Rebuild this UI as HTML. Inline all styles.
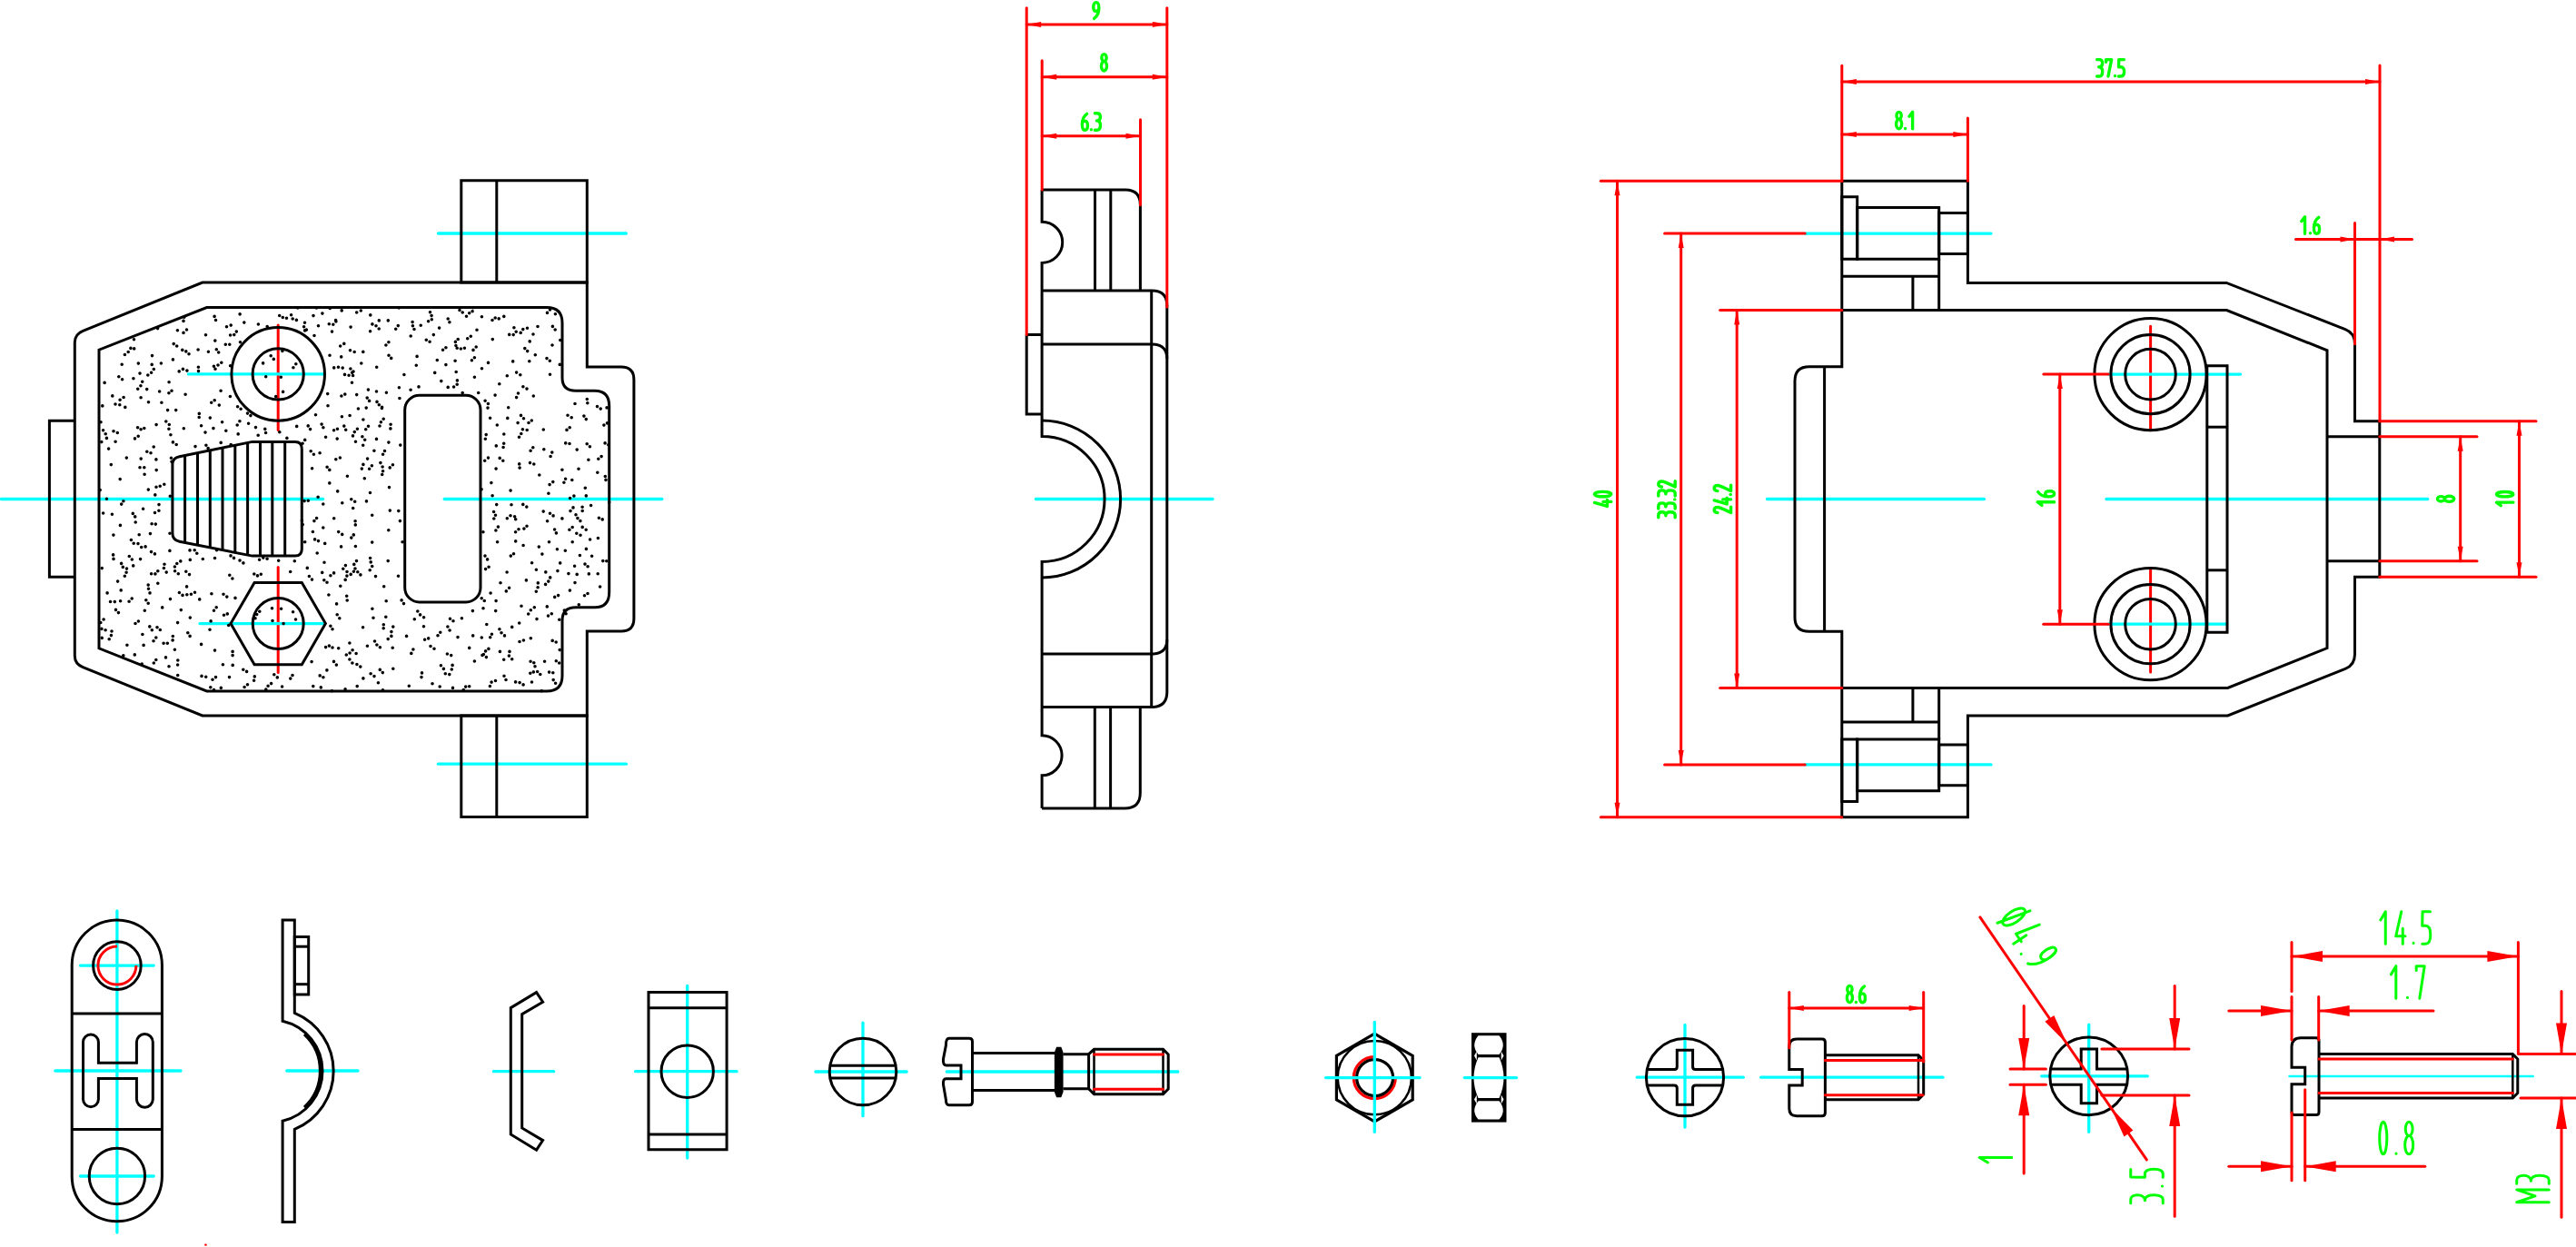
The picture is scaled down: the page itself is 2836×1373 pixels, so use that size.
<!DOCTYPE html><html><head><meta charset="utf-8"><title>CAD drawing</title><style>html,body{margin:0;padding:0;background:#fff;width:2836px;height:1373px;overflow:hidden;font-family:"Liberation Sans",sans-serif;}</style></head><body><svg width="2836" height="1373" viewBox="0 0 2836 1373" style="display:block"><rect width="100%" height="100%" fill="#fff"/><line x1="306.2" y1="358" x2="306.2" y2="473.5" stroke="#ff0000" stroke-width="3.0" stroke-linecap="round"/>
<line x1="306.2" y1="624.4" x2="306.2" y2="740.5" stroke="#ff0000" stroke-width="3.0" stroke-linecap="round"/>
<line x1="2367.6" y1="359.2" x2="2367.6" y2="473.7" stroke="#ff0000" stroke-width="3.0" stroke-linecap="round"/>
<line x1="2367.6" y1="625.6" x2="2367.6" y2="740.1" stroke="#ff0000" stroke-width="3.0" stroke-linecap="round"/>
<path d="M1513.3,1163.6 A23,23 0 1,0 1536.3,1186.6" stroke="#ff0000" stroke-width="3.2" fill="none" />
<line x1="1.4" y1="549.5" x2="355.6" y2="549.5" stroke="#00ffff" stroke-width="3.3" stroke-linecap="round"/>
<line x1="489.2" y1="549.5" x2="728.8" y2="549.5" stroke="#00ffff" stroke-width="3.3" stroke-linecap="round"/>
<line x1="482.4" y1="257" x2="689.4" y2="257" stroke="#00ffff" stroke-width="3.3" stroke-linecap="round"/>
<line x1="482.4" y1="841.2" x2="689.4" y2="841.2" stroke="#00ffff" stroke-width="3.3" stroke-linecap="round"/>
<line x1="207.4" y1="411.9" x2="356" y2="411.9" stroke="#00ffff" stroke-width="3.3" stroke-linecap="round"/>
<line x1="220" y1="686.6" x2="357.6" y2="686.6" stroke="#00ffff" stroke-width="3.3" stroke-linecap="round"/>
<line x1="1140.4" y1="549.5" x2="1335" y2="549.5" stroke="#00ffff" stroke-width="3.3" stroke-linecap="round"/>
<line x1="1945.5" y1="549.5" x2="2184.4" y2="549.5" stroke="#00ffff" stroke-width="3.3" stroke-linecap="round"/>
<line x1="2319" y1="549.5" x2="2672.7" y2="549.5" stroke="#00ffff" stroke-width="3.3" stroke-linecap="round"/>
<line x1="1987.2" y1="257.1" x2="2192" y2="257.1" stroke="#00ffff" stroke-width="3.3" stroke-linecap="round"/>
<line x1="1987.2" y1="841.9" x2="2192" y2="841.9" stroke="#00ffff" stroke-width="3.3" stroke-linecap="round"/>
<line x1="2321.2" y1="412.1" x2="2466.5" y2="412.1" stroke="#00ffff" stroke-width="3.3" stroke-linecap="round"/>
<line x1="2321.2" y1="687.2" x2="2451" y2="687.2" stroke="#00ffff" stroke-width="3.3" stroke-linecap="round"/>
<line x1="128.9" y1="1002.9" x2="128.9" y2="1357" stroke="#00ffff" stroke-width="3.3" stroke-linecap="round"/>
<line x1="60.8" y1="1179" x2="199" y2="1179" stroke="#00ffff" stroke-width="3.3" stroke-linecap="round"/>
<line x1="88.4" y1="1063.1" x2="169.2" y2="1063.1" stroke="#00ffff" stroke-width="3.3" stroke-linecap="round"/>
<line x1="88.4" y1="1295" x2="169.2" y2="1295" stroke="#00ffff" stroke-width="3.3" stroke-linecap="round"/>
<line x1="315.7" y1="1179" x2="394" y2="1179" stroke="#00ffff" stroke-width="3.3" stroke-linecap="round"/>
<line x1="543.5" y1="1179.7" x2="609.6" y2="1179.7" stroke="#00ffff" stroke-width="3.3" stroke-linecap="round"/>
<line x1="756.7" y1="1085.5" x2="756.7" y2="1275" stroke="#00ffff" stroke-width="3.3" stroke-linecap="round"/>
<line x1="699.6" y1="1179.7" x2="811" y2="1179.7" stroke="#00ffff" stroke-width="3.3" stroke-linecap="round"/>
<line x1="950" y1="1126.2" x2="950" y2="1228.7" stroke="#00ffff" stroke-width="3.3" stroke-linecap="round"/>
<line x1="897.9" y1="1180" x2="998.2" y2="1180" stroke="#00ffff" stroke-width="3.3" stroke-linecap="round"/>
<line x1="1042.3" y1="1180" x2="1296.8" y2="1180" stroke="#00ffff" stroke-width="3.3" stroke-linecap="round"/>
<line x1="1855" y1="1128.5" x2="1855" y2="1241.1" stroke="#00ffff" stroke-width="3.3" stroke-linecap="round"/>
<line x1="1802.3" y1="1186.2" x2="1919.2" y2="1186.2" stroke="#00ffff" stroke-width="3.3" stroke-linecap="round"/>
<line x1="1938.7" y1="1186.2" x2="2139" y2="1186.2" stroke="#00ffff" stroke-width="3.3" stroke-linecap="round"/>
<line x1="2299.7" y1="1128.1" x2="2299.7" y2="1246.3" stroke="#00ffff" stroke-width="3.3" stroke-linecap="round"/>
<line x1="2247.7" y1="1184.8" x2="2364.3" y2="1184.8" stroke="#00ffff" stroke-width="3.3" stroke-linecap="round"/>
<line x1="2520.5" y1="1185" x2="2788.7" y2="1185" stroke="#00ffff" stroke-width="2.5" stroke-linecap="round"/>
<path d="M289.6 399.9h0M146.3 565.4h0M148.7 568.9h0M154 514.8h0M158.8 514.7h0M175.6 431h0M645.2 583.2h0M641.2 580.4h0M172.1 467.6h0M417.2 362h0M414 358.8h0M409.9 356.9h0M370.4 732.1h0M367.5 728.4h0M404.4 711.3h0M269.1 756.5h0M272.5 753.8h0M637 516.3h0M149.2 575h0M571.5 481.3h0M573.8 477.5h0M583.8 741.2h0M483.6 361.1h0M573.5 457.4h0M576.5 460.7h0M200.8 385.4h0M204.8 386.9h0M208 389.7h0M627.6 548.5h0M631.9 546.1h0M572 706.5h0M576.4 705h0M152.3 400.1h0M111.9 692.4h0M116.1 693.7h0M648.3 631.9h0M135.8 721.8h0M603.5 678.1h0M607.3 675.7h0M666.3 524.5h0M667 528.4h0M191.2 378.6h0M194.7 381h0M649.6 594h0M170.8 544.9h0M378.8 469.1h0M380.7 473.2h0M222 744.4h0M226.7 745.2h0M156.9 698.5h0M622.7 487.9h0M627 488.5h0M232.1 683.9h0M591 681.6h0M526.7 432.5h0M307.7 347.5h0M311.3 349.5h0M315.5 350.2h0M359.9 737.9h0M649.4 491.8h0M646.2 488.8h0M380.1 758.7h0M580.7 386.6h0M577.8 383.6h0M554.8 478h0M658.8 505.2h0M662.1 502.6h0M177.4 400h0M564.7 397.9h0M663.8 617.6h0M667.8 617.7h0M560.6 647.3h0M557.3 650.9h0M575.9 425.7h0M580 428.1h0M580.5 361.2h0M616.7 619.9h0M399.6 690.7h0M547.6 596.7h0M190.4 395.9h0M173.6 361.6h0M407.5 542.5h0M608.4 359.4h0M611.2 363h0M425.2 661.8h0M357.7 598.4h0M396.9 632.9h0M604.6 740.1h0M608.8 740.8h0M360.1 514.2h0M362.8 517.4h0M146.7 622.9h0M616.3 401.4h0M481.3 396.5h0M647.9 506.3h0M398.9 480.8h0M401.7 484.2h0M399.9 462h0M169.3 730h0M171.8 726.5h0M535.8 687.5h0M490.3 741.8h0M494.8 742.6h0M504.2 373.5h0M501.4 376.4h0M501.9 380.5h0M466.6 679.7h0M462.6 676.9h0M459.8 673h0M343.1 728.6h0M129.6 640.1h0M657.5 447.6h0M661.2 450.1h0M393.2 755.6h0M611.6 752.2h0M609.2 748.6h0M579.4 638.9h0M335.7 484.4h0M333.1 488.3h0M350.5 358.8h0M658.4 592.5h0M130.8 414.7h0M134.6 417.8h0M659.4 570.2h0M663.2 571.9h0M264 617.1h0M267.9 619.9h0M187 587.3h0M438.8 562.6h0M606.1 502.5h0M607.8 498.1h0M471.6 353.8h0M613.4 604.8h0M403.5 551.9h0M563.7 690.4h0M613.9 628.6h0M236.1 348.4h0M237.5 352.5h0M362.3 356.8h0M366.8 357.2h0M369.9 354h0M365.5 365.1h0M616.8 374.5h0M530.1 538.8h0M587.3 436h0M236.5 614.5h0M587 368h0M268.8 355.1h0M294.1 615.2h0M459.1 392.4h0M161.7 428.6h0M370.6 664.9h0M418 469h0M419.4 464.8h0M422.2 461.3h0M147.5 373.8h0M254.2 489.6h0M169.2 492h0M195.7 743.5h0M342.2 496.7h0M345.4 500.3h0M633 641.6h0M440.8 490.1h0M267.8 737.3h0M271.6 739.4h0M545.7 672.6h0M121.5 662.5h0M126.3 662.6h0M133.2 649.9h0M534 612.1h0M536.6 615.9h0M380.4 622.6h0M377.8 626.3h0M567.7 571.7h0M348.6 570.5h0M345.9 573.6h0M241.3 446.1h0M610.7 657.4h0M614.6 655.6h0M259 658.4h0M555.5 699.9h0M552 696.8h0M549.9 692.7h0M602.5 344.4h0M605.5 341h0M167.2 401.4h0M540.9 531.6h0M127.5 671.4h0M130.4 674.6h0M177.9 443.3h0M503.2 383.2h0M507.3 384h0M511.4 383.3h0M111 464.7h0M651.6 612.2h0M375.9 436h0M379.8 434.1h0M117.4 549.3h0M485.4 732.8h0M488.4 736.4h0M387.5 421.2h0M256.1 717.4h0M256.1 721.6h0M188.4 504.2h0M189 508.2h0M139.3 504.1h0M292.7 414.8h0M530.4 348.7h0M305.3 745.9h0M301.8 742.7h0M281 680.7h0M282.7 676.5h0M285.8 673.2h0M215 491.6h0M122.3 511.6h0M542 352.5h0M545.2 350h0M549.2 350.9h0M531 721.4h0M535.4 723.6h0M498.1 732.4h0M497.3 737h0M350.1 547.2h0M209.3 680.1h0M574 667.3h0M291.8 472.4h0M292.6 476.5h0M534.1 441.3h0M537.4 444.5h0M537 449.1h0M668.1 448.9h0M180.8 533.2h0M546.1 661.6h0M272.5 455.1h0M275.9 457.6h0M192.4 715.2h0M670.7 553.1h0M163.3 539.1h0M584.1 728.2h0M587.8 729.8h0M589 733.7h0M635.2 495.1h0M361 446.8h0M229.1 493.5h0M226.9 490.2h0M522.4 728h0M571.7 510.9h0M572.1 515.1h0M558.3 570.7h0M562 567.8h0M566.6 568.8h0M469.3 374.2h0M473.1 376.2h0M280.3 744.9h0M279.6 749.2h0M562.3 612.1h0M565.5 609.7h0M618.9 517.2h0M367.7 404.9h0M372.5 404.2h0M377.2 405.1h0M155.7 602.5h0M160.1 601.9h0M197.2 408.9h0M201.4 406.4h0M205.9 408.1h0M593.3 602.1h0M427.3 352.9h0M194.2 489.5h0M190.4 486.9h0M344.4 585.5h0M354.9 345.1h0M374.7 381h0M378.8 378.4h0M392.5 617.6h0M389.8 621.4h0M391 626h0M135.9 551.7h0M133.7 555.1h0M167.5 391.6h0M558.1 630h0M231 693.2h0M248.8 474.3h0M620.9 531.3h0M622.6 527.3h0M393.4 472.2h0M390.3 475.6h0M388.5 479.9h0M492.4 720h0M496.7 721.6h0M602.6 573.7h0M608 380h0M559.7 448.8h0M205.8 654.7h0M210.4 654.3h0M214.5 652.2h0M231.3 460.1h0M454.1 354.6h0M454.4 358.7h0M456 362.5h0M409.4 512.7h0M406.6 516.3h0M375.7 392.9h0M243.8 399.2h0M240 402h0M235.4 403.3h0M567.6 750.9h0M572.1 751.6h0M576.1 753.9h0M385.9 406h0M389 409.1h0M388.6 413.5h0M195.8 727h0M195.6 732h0M186.1 420.8h0M568.6 410.1h0M572.8 412.8h0M411.9 496.3h0M478.7 410.4h0M254 611.9h0M257.5 614.4h0M420.7 522.5h0M403.2 449.1h0M253.4 436.5h0M643.5 655.8h0M647 653.5h0M622.3 606.2h0M484.2 756h0M593.8 523h0M430.1 467.3h0M429.9 471.9h0M202.8 349.2h0M202 353.4h0M525 363.3h0M312.1 686.6h0M599.6 728.2h0M466.5 689.8h0M160.8 660.7h0M163.2 664.2h0M132.6 661.7h0M376.4 458.7h0M554.8 348.4h0M132.4 578.4h0M576.9 582.1h0M580 579.2h0M539.4 755.5h0M541.1 751.1h0M545.5 749.5h0M650.6 556.5h0M195.6 685.6h0M237 406.3h0M542.1 545.8h0M424.9 380h0M427.9 376.7h0M611.4 345.8h0M464.5 740.9h0M464 745.6h0M585.6 619.7h0M545.9 584h0M548.4 580.1h0M394.4 450h0M576.1 600.5h0M660.6 646h0M303.7 436.6h0M252.5 745.6h0M198.8 617.9h0M194.8 620.5h0M216.8 609.3h0M214.2 605.7h0M112.2 702.4h0M231.8 756.8h0M235.5 759.5h0M516.7 713.4h0M504 701.6h0M551 641.7h0M338.3 625.4h0M209.3 616.4h0M414.7 404.2h0M641.1 558.3h0M641.2 562.5h0M376.2 341.9h0M315.9 482.4h0M365.4 760.8h0M666.1 487.9h0M669.8 489.7h0M343.6 515.8h0M232.9 653.8h0M405.4 429.1h0M178.7 668.9h0M425.4 432.2h0M571.7 686h0M176.3 693.5h0M173 690.7h0M244.6 464.8h0M349.2 609h0M592 359.5h0M621.3 672.1h0M623.1 675.7h0M238.2 668.8h0M235.5 672.3h0M409.7 597.1h0M618.9 570.9h0M226.5 368.8h0M487.6 385.3h0M490.9 382.8h0M386.1 360.1h0M187.3 546.3h0M412.5 706h0M414.9 710h0M418.4 712.8h0M584.1 496.2h0M586.8 492.8h0M473.5 343.8h0M475.1 347.6h0M475.3 351.7h0M381.3 721h0M385.1 719h0M388.1 715.8h0M299.5 669.8h0M625 457.2h0M629.2 459.7h0M335.1 551.6h0M339.3 551.3h0M385.5 385.7h0M390.2 387.5h0M332.4 573.3h0M333.2 577.6h0M630.2 596.7h0M554.7 726.2h0M493.2 426.4h0M162.8 413h0M166.6 410.3h0M169.3 406.5h0M602 394.6h0M605.3 397.3h0M427.8 583.7h0M388.7 559.5h0M546.1 516.1h0M335.6 363.9h0M543.8 571h0M545.5 567.2h0M543.6 563.5h0M348.4 339h0M229.4 387.2h0M361.9 655h0M501.1 397.3h0M612.3 727.8h0M615.7 730h0M326.7 469.4h0M562.1 540.1h0M535.2 478.6h0M534.3 483.2h0M450.3 755.3h0M319.7 629.5h0M615.8 682.2h0M409.7 567.2h0M322.6 673.7h0M664.9 468.1h0M668.5 465.9h0M439.2 339h0M545.1 435.1h0M616.2 715.6h0M376.7 588.4h0M372.7 585.6h0M309.6 670.2h0M245.4 731.7h0M598.8 494.8h0M151.6 470.8h0M155.1 472.8h0M158.8 471.5h0M221.6 709.4h0M439.4 426.8h0M264.5 376.8h0M443.1 596.8h0M320.6 346.8h0M322.2 351h0M326.4 352.4h0M596.9 610.1h0M156.2 731h0M209.1 700.4h0M206.8 696.8h0M127 445h0M131.8 445.8h0M187.5 659.6h0M442.1 660.9h0M444.5 664.6h0M532 669.7h0M238.3 384.7h0M240.7 388h0M193.7 451.6h0M114.1 682h0M110.8 685.5h0M642.9 458.1h0M645.3 461.6h0M430.7 394.4h0M428 391.2h0M567.6 585.7h0M571 582.7h0M181 621.2h0M180.4 625.5h0M401.3 526.7h0M173.8 642.3h0M598.3 473h0M139.9 710.3h0M163.5 442.7h0M503.4 418.9h0M503.2 423.3h0M499.6 426h0M600.6 643.4h0M603.8 640.1h0M605.7 635.9h0M609.1 567.9h0M605.5 565.2h0M530.5 405.7h0M404.6 505.1h0M353.3 756.9h0M399.9 746.9h0M407.6 364.8h0M392.7 344h0M397.3 342h0M124.6 610.9h0M125 615.4h0M352.2 743.9h0M355.9 745.7h0M153.2 588.8h0M355.8 555h0M626.9 583.3h0M630.2 580.5h0M363.9 633.8h0M367.6 630.9h0M367.7 570.7h0M243.1 430.3h0M111.8 486.6h0M385.1 457.5h0M195.4 363.7h0M524.2 382h0M521 385.4h0M583.2 375.9h0M171.9 505.9h0M190.3 700.5h0M190.1 704.9h0M362.8 531.9h0M421.6 500.3h0M423.5 496.5h0M411 680.3h0M369.6 352.5h0M363.2 339.5h0M432.2 713.3h0M382.4 524.3h0M202.3 471.8h0M575.8 555.4h0M579.8 558.1h0M209 605.9h0M279.8 632h0M283.5 633.9h0M287.3 632.3h0M485.8 419.6h0M420.4 449.4h0M432.4 511.8h0M429.2 514.9h0M645.3 545.9h0M594.8 742.5h0M591.7 739.5h0M587.3 739.9h0M136.1 437.5h0M132.1 440.2h0M570.1 465.6h0M646.3 439.5h0M646.8 443.7h0M603.9 543.3h0M309.3 415.2h0M170.5 564.5h0M174.9 562.3h0M371.2 483.1h0M264.1 345.9h0M371.2 676.8h0M373.8 680.8h0M319.8 747.1h0M322 743.5h0M363 391.3h0M175 555.6h0M324.3 617.7h0M154 411.1h0M167.1 576.7h0M171.3 577.1h0M514.7 372.8h0M518.3 370.3h0M608.2 705.4h0M612.2 707h0M452.1 429.3h0M335.7 596.7h0M632.6 623.2h0M438.5 634.3h0M493.2 351h0M494.9 354.7h0M635.2 632.4h0M396.8 734.1h0M392.9 731.5h0M416.4 751.8h0M415 442.4h0M417.3 445.8h0M420.6 448.2h0M183.2 630.1h0M380.2 638.4h0M381.9 634.1h0M382 629.5h0M439.9 438.5h0M172.2 517.6h0M490.9 401.6h0M583.5 509.6h0M587.8 511h0M381.7 656.3h0M382.2 661h0M477.3 368.6h0M163.2 644.1h0M163.5 648.3h0M575.4 472.7h0M580.2 473.5h0M249.5 359.8h0M254.2 358.1h0M386.8 549.8h0M390.7 552.3h0M185.9 432.8h0M189 430.2h0M584.3 702.8h0M347.5 456.8h0M398.3 516.1h0M399.9 511.4h0M428.5 536.6h0M452.2 370h0M598.2 563.1h0M421.3 740.6h0M418.3 737.4h0M169 705.7h0M171.8 702h0M509.2 432.6h0M413.5 634.6h0M590.4 627.2h0M645.4 604.4h0M335.5 355.3h0M334.6 359.7h0M337.4 363.1h0M492.9 690h0M495.1 694h0M307.8 475.8h0M243.2 487.4h0M123 695h0M122.4 699.6h0M120.2 703.8h0M585.5 751h0M360.7 433.6h0M399.7 490.2h0M461 425.9h0M284.2 479.3h0M604.5 596.7h0M519.4 396.8h0M522.4 393.8h0M429.3 562.1h0M602.3 667.9h0M540.1 653h0M418.9 509.6h0M421.1 514h0M421.6 518.8h0M392.1 719.5h0M634.8 587.3h0M639 589.2h0M146.9 416.8h0M658.2 631.8h0M132.2 527.6h0M137.4 390.5h0M141.2 387.5h0M143.9 383.4h0M113.6 473.8h0M116.2 477.8h0M117.4 482.4h0M386.8 592.1h0M389.3 588.9h0M285.6 616.3h0M289.8 614.1h0M542.3 373.6h0M440.4 573.6h0M547.3 468h0M110.2 539.6h0M546.3 490.9h0M391.1 573.8h0M391.3 577.9h0M243.3 757.4h0M142.3 612.5h0M145.3 616h0M232.7 443.3h0M236.2 440.8h0M637.3 665.8h0M182.8 464h0M186.3 467.5h0M185.9 472.3h0M590.3 651.3h0M592.1 646.8h0M592.3 641.9h0M495.5 681.2h0M499 683.7h0M391.5 486.2h0M369.8 505.8h0M374.4 504h0M123.8 435.9h0M392.7 434.6h0M387.9 730h0M384.9 726h0M506 341.5h0M509.2 344h0M555 744.3h0M557 748.5h0M498.5 757.4h0M633 444.5h0M218.1 385h0M530.3 702h0M238.6 605.7h0M414.5 431h0M374.8 645.3h0M186 733.8h0M568.6 437.6h0M570.5 433h0M624 473.4h0M627.2 470.8h0M248.3 379.2h0M252.8 379.2h0M155.2 505.1h0M537.5 399.4h0M115.1 421.4h0M467.6 704.3h0M471.7 702.9h0M657.8 520.3h0M589.3 390.7h0M435.7 362.2h0M438.3 358.6h0M638.4 611.5h0M205.5 363h0M202 366.4h0M149 686.5h0M152.4 684h0M363.9 689.3h0M366 692.8h0M187.9 478.8h0M261.6 447.8h0M265.1 450.2h0M223.3 615.5h0M520.7 338.7h0M520.1 342.7h0M516.7 344.8h0M558.8 460.4h0M358.6 712.6h0M362.4 711.1h0M366 713h0M444.9 412.5h0M424.8 679.3h0M582.8 397.7h0M159.3 672.2h0M137.3 634.2h0M139.1 630.3h0M139.5 626.1h0M644 621.1h0M647.1 623.8h0M127.1 486.3h0M550.4 717.4h0M219.3 455.4h0M219.2 459.5h0M184.6 451.6h0M246 654.2h0M249.8 657.1h0M340.4 634.5h0M343.5 638.1h0M582 465.5h0M585.3 463h0M172 536.2h0M176.2 535.3h0M421.5 759.9h0M546.7 555.6h0M573.2 366.4h0M575.8 362.6h0M300 683.5h0M301.3 395.4h0M298.2 391.8h0M144.4 594.5h0M147.2 598.3h0M152 598.6h0M476 752.7h0M252.8 633.3h0M255.9 637h0M408.1 741.8h0M412 744.6h0M432.8 736.3h0M133.6 620.4h0M135.3 624.4h0M154.6 615.6h0M581.7 676h0M584.3 671.8h0M588.3 668.8h0M357 619.2h0M173.8 628.7h0M170.9 631.9h0M166.6 631.7h0M311.6 431.4h0M452.8 719.4h0M454.9 715h0M327.8 338.9h0M427.2 617.6h0M273.6 466.3h0M565.9 360.7h0M386.2 632.4h0M389.4 629.3h0M393.8 629.8h0M125 474.8h0M129.3 476.5h0M539.6 460.2h0M344.8 755.6h0M432.8 690.1h0M197.4 652.5h0M201 655.4h0M375.6 601.9h0M482 699.7h0M484.8 696.3h0M628 562.6h0M631 558.9h0M427.9 487.1h0M534.6 626.6h0M538.1 624.2h0M205.6 645.9h0M520.4 672.6h0M474 711.5h0M478 714.2h0M399.8 387.4h0M123.4 566.3h0M422.3 687.8h0M422.2 691.8h0M292.8 759.1h0M295.1 755.3h0M298.6 752.6h0M219.7 659.9h0M118.1 652.9h0M165 652.9h0M345 347.6h0M152.2 480.2h0M148.5 482.9h0M306.7 617.2h0M407.8 346.9h0M549.8 422.7h0M355.8 581h0M596.3 760.7h0M372.7 713.7h0M561 717.4h0M560.4 722.1h0M563.7 725.7h0M371.7 540.9h0M537.9 714.4h0M534.6 716.9h0M532.4 720.5h0M391.4 601.5h0M560.7 368.4h0M565.2 368.6h0M568.2 365.3h0M155.1 437.7h0M261.2 468h0M263.9 463.8h0M147.7 383.9h0M627.4 650.1h0M513.5 348.2h0M605.5 412.3h0M356.8 638.8h0M360 641.3h0M322.9 404.7h0M325.8 400.8h0M236.5 716.1h0M164.8 689.9h0M167.3 693.7h0M407.6 614.5h0M625.9 631.6h0M112.8 446.9h0M354.7 630.4h0M530.2 658.8h0M533.3 661.5h0M422.7 645.7h0M629.8 528.5h0M502.2 409.5h0M367.6 473.8h0M371.5 472.2h0M246.5 677.3h0M250.3 675.9h0M539.7 701.8h0M541.4 698.2h0M161.8 497.3h0M166 498.7h0M204.1 434.2h0M638.9 573.6h0M635.9 570.6h0M634 566.8h0M404.2 438.1h0M406.6 441.4h0M256.2 732.4h0M310.9 386.5h0M379.5 412.4h0M384.1 413.2h0M387.6 410.2h0M151.7 428.3h0M154.9 424.7h0M156.7 420.2h0M531.9 585.8h0M234 748.3h0M237.5 745.6h0M567.7 595.9h0M346 369.5h0M159.1 522.3h0M145.2 659h0M142.1 662.3h0M148.3 720.9h0M208.5 632.6h0M204.8 629.2h0M251.7 688.5h0M226 476.1h0M358.6 481.2h0M414.5 483.4h0M550.2 504.4h0M553.8 507.3h0M447.6 700.4h0M113.6 565h0M260.3 365.1h0M257.8 368.6h0M253.6 369h0M510.3 759.5h0M512.7 756.1h0M516.7 755.8h0M402.7 472.7h0M405.5 469.3h0M180.1 708.3h0M184.3 708.3h0M134.2 401.2h0M508.4 680.7h0M236.8 375.1h0M166.5 607.6h0M170.4 609.9h0M294.2 359.5h0M221.6 468.8h0M253.6 402.7h0M281.5 470.6h0M397.8 400h0M605.1 533.6h0M608.8 530.6h0M600.8 629.9h0M563 555.8h0M409.9 670.3h0M284.4 357h0M325.5 682h0M537.5 504.1h0M533.7 507.2h0M384.9 708h0M520.7 699.9h0M234.9 471.6h0M112.2 625.6h0M354.1 467.1h0M355.9 470.7h0M644.3 537.2h0M119.6 494.1h0M610.6 583h0M612.4 586.9h0M165.4 587.6h0M124.9 589.1h0M157.6 560.2h0M554.7 488.3h0M554.1 492.5h0M352.1 498.7h0M522.4 415.3h0M558.3 413.8h0M186.9 606.4h0M346.6 593.9h0M350.5 595.6h0M463.2 358.3h0M199.3 671.6h0M341.6 472.6h0M339.2 468.9h0M218.4 404.3h0M218.5 408.6h0M417.3 352.9h0M376.8 553.8h0M458.3 402.3h0M182.5 723.9h0M456.3 681.8h0M427.2 703.6h0M430.9 700.4h0M430.9 695.6h0M262.2 477.9h0M196.3 631.7h0M192.6 628.8h0M192.4 624h0M137.8 448.4h0M158.1 710.4h0M310.6 756h0M407.2 627.7h0M409.7 623.5h0M408.2 618.9h0" stroke="#000000" stroke-width="3.6" fill="none" stroke-linecap="round"/>
<path d="M222.8,311 H646.3 V404 H684 Q697.9,404 697.9,418 V681 Q697.9,695 684,695 H646.3 V788 H222.8 L91.3,734.6 Q82.3,731 82.3,722 V377 Q82.3,368 91.3,364.4 Z" stroke="#000000" stroke-width="3.0" fill="none" />
<path d="M227.6,338.5 H602 Q619,338.5 619,355.5 V416 Q619,430.2 634,430.2 H654.8 Q670.7,430.2 670.7,447 V652 Q670.7,668.8 654.8,668.8 H634 Q619,668.8 619,683 V744 Q619,761 602,761 H227.6 L109,713.8 V385.2 Z" stroke="#000000" stroke-width="3.0" fill="none" />
<path d="M82.3,463.2 H54.4 V635.3 H82.3" stroke="#000000" stroke-width="3.0" fill="none" />
<path d="M507.8,198.7 H646.3 V311 H507.8 Z" stroke="#000000" stroke-width="3.0" fill="none" />
<line x1="546.8" y1="198.7" x2="546.8" y2="311" stroke="#000000" stroke-width="3.0" stroke-linecap="butt"/>
<path d="M507.8,788 H646.3 V899.5 H507.8 Z" stroke="#000000" stroke-width="3.0" fill="none" />
<line x1="546.8" y1="788" x2="546.8" y2="899.5" stroke="#000000" stroke-width="3.0" stroke-linecap="butt"/>
<rect x="445.7" y="435.3" width="83.3" height="227.6" rx="16" ry="16" fill="none" stroke="#000" stroke-width="3"/>
<path d="M197.6,502.7 L277.8,486.4 H325 Q332.3,486.4 332.3,494 V604.5 Q332.3,612.1 325,612.1 H277.8 L197.6,596.3 Q189.9,594.8 189.9,587 V511 Q189.9,504.3 197.6,502.7 Z" stroke="#000000" stroke-width="3.0" fill="none" />
<line x1="203.6" y1="501.5" x2="203.6" y2="597.5" stroke="#000000" stroke-width="3.0" stroke-linecap="butt"/>
<line x1="217.5" y1="498.7" x2="217.5" y2="600.2" stroke="#000000" stroke-width="3.0" stroke-linecap="butt"/>
<line x1="231.3" y1="495.9" x2="231.3" y2="602.9" stroke="#000000" stroke-width="3.0" stroke-linecap="butt"/>
<line x1="245" y1="493.1" x2="245" y2="605.6" stroke="#000000" stroke-width="3.0" stroke-linecap="butt"/>
<line x1="258.8" y1="490.3" x2="258.8" y2="608.4" stroke="#000000" stroke-width="3.0" stroke-linecap="butt"/>
<line x1="272.6" y1="487.5" x2="272.6" y2="611.1" stroke="#000000" stroke-width="3.0" stroke-linecap="butt"/>
<line x1="286.5" y1="486.4" x2="286.5" y2="612.1" stroke="#000000" stroke-width="3.0" stroke-linecap="butt"/>
<line x1="299.8" y1="486.4" x2="299.8" y2="612.1" stroke="#000000" stroke-width="3.0" stroke-linecap="butt"/>
<line x1="313.7" y1="486.4" x2="313.7" y2="612.1" stroke="#000000" stroke-width="3.0" stroke-linecap="butt"/>
<circle cx="306.2" cy="411.9" r="51.3" stroke="#000000" stroke-width="3.0" fill="none"/>
<circle cx="306.2" cy="411.9" r="28.1" stroke="#000000" stroke-width="3.0" fill="none"/>
<path d="M358.4,686.6 L332.3,731.8 L280.1,731.8 L254,686.6 L280.1,641.4 L332.3,641.4 Z" stroke="#000000" stroke-width="3.0" fill="none" />
<circle cx="306.2" cy="686.6" r="28" stroke="#000000" stroke-width="3.0" fill="none"/>
<path d="M1147.1,209 H1239 Q1255.4,209 1255.4,225.8 V320" stroke="#000000" stroke-width="3.0" fill="none" />
<line x1="1205.5" y1="209" x2="1205.5" y2="320" stroke="#000000" stroke-width="3.0" stroke-linecap="butt"/>
<line x1="1222.8" y1="209" x2="1222.8" y2="320" stroke="#000000" stroke-width="3.0" stroke-linecap="butt"/>
<path d="M1147.1,209 V244.2 A22.6,22.6 0 0,1 1147.1,289.4 V480.5 A69,69 0 0,1 1147.1,618.5 V809.8 A22,22 0 0,1 1147.1,853.8 V890" stroke="#000000" stroke-width="3.0" fill="none" />
<path d="M1147.1,320 H1268 Q1284.8,320 1284.8,336.5 V762" stroke="#000000" stroke-width="3.0" fill="none" />
<path d="M1147.1,720 H1267.7 Q1284.8,720 1284.8,704.5" stroke="#000000" stroke-width="3.0" fill="none" />
<path d="M1147.1,379 H1267.7 Q1284.8,379 1284.8,395" stroke="#000000" stroke-width="3.0" fill="none" />
<path d="M1147.1,778.5 H1267.7 Q1284.8,778.5 1284.8,762" stroke="#000000" stroke-width="3.0" fill="none" />
<line x1="1267.7" y1="320" x2="1267.7" y2="778.5" stroke="#000000" stroke-width="3.0" stroke-linecap="butt"/>
<path d="M1147.1,463 A86.5,86.5 0 0,1 1147.1,636" stroke="#000000" stroke-width="3.0" fill="none" />
<path d="M1130.2,368.4 H1147.1 M1130.2,368.4 V456 H1147.1" stroke="#000000" stroke-width="3.0" fill="none" />
<path d="M1147.1,890 H1238.3 Q1255.3,890 1255.3,873 V778.5" stroke="#000000" stroke-width="3.0" fill="none" />
<line x1="1205.3" y1="778.5" x2="1205.3" y2="890" stroke="#000000" stroke-width="3.0" stroke-linecap="butt"/>
<line x1="1222.6" y1="778.5" x2="1222.6" y2="890" stroke="#000000" stroke-width="3.0" stroke-linecap="butt"/>
<path d="M2027.8,199.3 H2166.4 V311.4 H2451.2 L2582,362.7 Q2592.5,366.8 2592.5,378.8 V463.8 H2619.8 V635.2 H2592.5 V720.2 Q2592.5,732.2 2582,736.3 L2452.6,788 H2166.4 V899.8 H2027.8 V695.3 H1991.8 Q1976,695.3 1976,680 V419.5 Q1976,403.7 1991.8,403.7 H2027.8 Z" stroke="#000000" stroke-width="3.0" fill="none" />
<path d="M2027.8,341.5 H2451.4 L2562,385.8 V713.6 L2452.6,757.4 H2027.8" stroke="#000000" stroke-width="3.0" fill="none" />
<line x1="2008.6" y1="403.7" x2="2008.6" y2="695.3" stroke="#000000" stroke-width="3.0" stroke-linecap="butt"/>
<path d="M2027.8,216.8 H2044.7 V285.3 H2027.8 Z" stroke="#000000" stroke-width="3.0" fill="none" />
<path d="M2044.7,228.6 H2134.7 V285.3 H2044.7 Z" stroke="#000000" stroke-width="3.0" fill="none" />
<path d="M2134.7,234.6 H2166.4 V279.4 H2134.7 Z" stroke="#000000" stroke-width="3.0" fill="none" />
<line x1="2027.8" y1="304.3" x2="2134.7" y2="304.3" stroke="#000000" stroke-width="3.0" stroke-linecap="butt"/>
<line x1="2134.7" y1="285.3" x2="2134.7" y2="341.5" stroke="#000000" stroke-width="3.0" stroke-linecap="butt"/>
<line x1="2105.9" y1="304.3" x2="2105.9" y2="341.5" stroke="#000000" stroke-width="3.0" stroke-linecap="butt"/>
<path d="M2027.8,882.5 H2044.7 V814 H2027.8 Z" stroke="#000000" stroke-width="3.0" fill="none" />
<path d="M2044.7,870.7 H2134.7 V814 H2044.7 Z" stroke="#000000" stroke-width="3.0" fill="none" />
<path d="M2134.7,864.7 H2166.4 V819.9 H2134.7 Z" stroke="#000000" stroke-width="3.0" fill="none" />
<line x1="2027.8" y1="795" x2="2134.7" y2="795" stroke="#000000" stroke-width="3.0" stroke-linecap="butt"/>
<line x1="2134.7" y1="814" x2="2134.7" y2="757.8" stroke="#000000" stroke-width="3.0" stroke-linecap="butt"/>
<line x1="2105.9" y1="795" x2="2105.9" y2="757.8" stroke="#000000" stroke-width="3.0" stroke-linecap="butt"/>
<line x1="2562" y1="480.8" x2="2619.8" y2="480.8" stroke="#000000" stroke-width="3.0" stroke-linecap="butt"/>
<line x1="2562" y1="617.8" x2="2619.8" y2="617.8" stroke="#000000" stroke-width="3.0" stroke-linecap="butt"/>
<circle cx="2367.5" cy="412.1" r="61.6" stroke="#000000" stroke-width="3.0" fill="none"/>
<circle cx="2367.5" cy="412.1" r="43.6" stroke="#000000" stroke-width="3.0" fill="none"/>
<circle cx="2367.5" cy="412.1" r="27.8" stroke="#000000" stroke-width="3.0" fill="none"/>
<circle cx="2367.5" cy="687.2" r="61.6" stroke="#000000" stroke-width="3.0" fill="none"/>
<circle cx="2367.5" cy="687.2" r="43.6" stroke="#000000" stroke-width="3.0" fill="none"/>
<circle cx="2367.5" cy="687.2" r="27.8" stroke="#000000" stroke-width="3.0" fill="none"/>
<path d="M2429.8,402.8 H2452 V696.3 H2429.8 Z" stroke="#000000" stroke-width="3.0" fill="none" />
<line x1="2429.8" y1="470.2" x2="2452" y2="470.2" stroke="#000000" stroke-width="3.0" stroke-linecap="butt"/>
<line x1="2429.8" y1="627.8" x2="2452" y2="627.8" stroke="#000000" stroke-width="3.0" stroke-linecap="butt"/>
<path d="M79.2,1062.6 A49.6,49.6 0 0,1 178.4,1062.6 V1295.2 A49.6,49.6 0 0,1 79.2,1295.2 Z" stroke="#000000" stroke-width="3.0" fill="none" />
<circle cx="128.9" cy="1063.1" r="26.3" stroke="#000000" stroke-width="3.0" fill="none"/>
<circle cx="128.9" cy="1295" r="30.7" stroke="#000000" stroke-width="3.0" fill="none"/>
<line x1="79.2" y1="1116" x2="178.4" y2="1116" stroke="#000000" stroke-width="3.0" stroke-linecap="butt"/>
<line x1="79.2" y1="1243.4" x2="178.4" y2="1243.4" stroke="#000000" stroke-width="3.0" stroke-linecap="butt"/>
<path d="M91.5,1147.5 A8.45,8.45 0 0,1 108.4,1147.5 V1170.3 H150.4 V1147.5 A8.95,8.95 0 0,1 168.3,1147.5 V1210.3 A8.95,8.95 0 0,1 150.4,1210.3 V1187.5 H108.4 V1210.3 A8.45,8.45 0 0,1 91.5,1210.3 Z" stroke="#000000" stroke-width="3.0" fill="none" />
<path d="M311.1,1013 H324.3 V1115.3 A69.3,69.3 0 0,1 324.3,1243.4 V1345.4 H311.1 V1234.2 A56.4,56.4 0 0,0 311.1,1124.2 Z" stroke="#000000" stroke-width="3.0" fill="none" />
<path d="M324.3,1031.5 H339.7 V1095 H324.3 Z" stroke="#000000" stroke-width="3.0" fill="none" />
<line x1="324.3" y1="1042.2" x2="339.7" y2="1042.2" stroke="#000000" stroke-width="3.0" stroke-linecap="butt"/>
<line x1="324.3" y1="1083.7" x2="339.7" y2="1083.7" stroke="#000000" stroke-width="3.0" stroke-linecap="butt"/>
<path d="M335.1,1138.8 A55,55 0 0,1 335.1,1219.2" stroke="#000000" stroke-width="3.4" fill="none" />
<path d="M590.6,1092.6 L597.6,1103.2 L574.7,1116.7 V1242 L597.6,1255.6 L590.6,1266.2 L562.3,1249 V1109.7 Z" stroke="#000000" stroke-width="3.0" fill="none" />
<path d="M714,1092.6 H800.1 V1265.8 H714 Z" stroke="#000000" stroke-width="3.0" fill="none" />
<line x1="714" y1="1109.7" x2="800.1" y2="1109.7" stroke="#000000" stroke-width="3.0" stroke-linecap="butt"/>
<line x1="714" y1="1249" x2="800.1" y2="1249" stroke="#000000" stroke-width="3.0" stroke-linecap="butt"/>
<circle cx="756.7" cy="1179.7" r="28.7" stroke="#000000" stroke-width="3.0" fill="none"/>
<circle cx="950" cy="1180" r="36.8" stroke="#000000" stroke-width="3.0" fill="none"/>
<line x1="913.8" y1="1173.2" x2="986.2" y2="1173.2" stroke="#000000" stroke-width="3.0" stroke-linecap="butt"/>
<line x1="913.9" y1="1186.9" x2="986.1" y2="1186.9" stroke="#000000" stroke-width="3.0" stroke-linecap="butt"/>
<path d="M1044.8,1143.3 H1067 Q1070.5,1143.3 1070.5,1146.8 V1213.3 Q1070.5,1216.8 1067,1216.8 H1044.8 Q1041.4,1216.8 1041.4,1210.8 L1038.5,1194 Q1038,1187.7 1041.4,1187.7 H1058 V1172.9 H1041.4 Q1038,1172.9 1038.5,1166 L1041.4,1151 Q1041.4,1143.3 1044.8,1143.3 Z" stroke="#000000" stroke-width="3.0" fill="none" />
<path d="M1070.5,1159.5 H1161 M1070.5,1200.5 H1161" stroke="#000000" stroke-width="3.0" fill="none" />
<path d="M1161.6,1159 L1163.6,1153.6 H1167.8 L1169.8,1159 V1202 L1167.8,1207.4 H1163.6 L1161.6,1202 Z" stroke="#000000" stroke-width="1.5" fill="#000000" />
<path d="M1170.4,1160.7 H1198.6 V1198.8 H1170.4" stroke="#000000" stroke-width="3.0" fill="none" />
<path d="M1198.6,1160.7 L1204.5,1155.3 H1280.5 L1286.2,1161 V1199 L1280.5,1204.8 H1204.5 L1198.6,1198.8" stroke="#000000" stroke-width="3.0" fill="none" />
<line x1="1204.5" y1="1155.3" x2="1204.5" y2="1204.8" stroke="#000000" stroke-width="2.5" stroke-linecap="butt"/>
<line x1="1280.5" y1="1155.3" x2="1280.5" y2="1204.8" stroke="#000000" stroke-width="2.5" stroke-linecap="butt"/>
<path d="M1555.2,1210.8 L1513.3,1235 L1471.4,1210.8 L1471.4,1162.4 L1513.3,1138.2 L1555.2,1162.4 Z" stroke="#000000" stroke-width="3.2" fill="none" />
<circle cx="1513.3" cy="1186.6" r="40.6" stroke="#000000" stroke-width="2.5" fill="none"/>
<circle cx="1513.6" cy="1186.6" r="20" stroke="#000000" stroke-width="3.2" fill="none"/>
<rect x="1620" y="1137.2" width="38.5" height="98.4" fill="#000"/>
<path d="M1627.5,1140.2 H1650.5 Q1659,1150.5 1650.5,1161 H1627.5 Q1619,1150.5 1627.5,1140.2 Z" stroke="#000000" stroke-width="0" fill="#fff" />
<path d="M1627.5,1164.2 H1650.5 Q1660.5,1186.6 1650.5,1209 H1627.5 Q1617.5,1186.6 1627.5,1164.2 Z" stroke="#000000" stroke-width="0" fill="#fff" />
<path d="M1627.5,1212.2 H1650.5 Q1659,1222.7 1650.5,1232.6 H1627.5 Q1619,1222.7 1627.5,1212.2 Z" stroke="#000000" stroke-width="0" fill="#fff" />
<path d="M1623,1162.6 L1625.8,1157.5 V1167.5 Z M1655.5,1162.6 L1652.7,1157.5 V1167.5 Z M1623,1210.6 L1625.8,1205.5 V1215.5 Z M1655.5,1210.6 L1652.7,1205.5 V1215.5 Z" stroke="#000000" stroke-width="0" fill="#fff" />
<circle cx="1855" cy="1186.2" r="42.6" stroke="#000000" stroke-width="3.0" fill="none"/>
<path d="M1813.3,1177.6 H1843.3 Q1846.3,1177.6 1846.3,1174.6 V1156.2 H1863.6 V1174.6 Q1863.6,1177.6 1866.6,1177.6 H1896.7" stroke="#000000" stroke-width="3.0" fill="none" />
<path d="M1813.3,1194.9 H1843.3 Q1846.3,1194.9 1846.3,1197.9 V1216.3 H1863.6 V1197.9 Q1863.6,1194.9 1866.6,1194.9 H1896.7" stroke="#000000" stroke-width="3.0" fill="none" />
<path d="M1978,1143.9 H2005.9 Q2009.4,1143.9 2009.4,1147.4 V1225.3 Q2009.4,1228.8 2005.9,1228.8 H1978 Q1969.8,1228.8 1969.8,1220.6 V1194.9 H1984.2 V1177.6 H1969.8 V1152.1 Q1969.8,1143.9 1978,1143.9 Z" stroke="#000000" stroke-width="3.0" fill="none" />
<path d="M2009.4,1161.7 H2112 L2117.7,1167.5 V1205 L2112,1210.8 H2009.4" stroke="#000000" stroke-width="3.0" fill="none" />
<line x1="2112" y1="1161.7" x2="2112" y2="1210.8" stroke="#000000" stroke-width="2.5" stroke-linecap="butt"/>
<circle cx="2299.7" cy="1184.8" r="42.9" stroke="#000000" stroke-width="3.0" fill="none"/>
<path d="M2257.5,1177 H2291.2 V1154.9 H2308.5 V1177 H2341.9" stroke="#000000" stroke-width="3.0" fill="none" />
<path d="M2257.9,1194.3 H2291.2 V1214.8 H2308.5 V1194.3 H2341.5" stroke="#000000" stroke-width="3.0" fill="none" />
<path d="M2533,1142.7 H2550 Q2553,1142.7 2553,1145.7 V1224.5 Q2553,1227.5 2550,1227.5 H2526 Q2523,1227.5 2523,1224.5 V1193.7 H2537.7 V1175.3 H2523 V1152.7 Q2523,1142.7 2533,1142.7 Z" stroke="#000000" stroke-width="3.0" fill="none" />
<path d="M2553,1160.5 H2766.3 L2771.8,1166 V1203.5 L2766.3,1209 H2553" stroke="#000000" stroke-width="3.0" fill="none" />
<line x1="2766.3" y1="1160.5" x2="2766.3" y2="1209" stroke="#000000" stroke-width="2.5" stroke-linecap="butt"/>
<line x1="1130.2" y1="8.7" x2="1130.2" y2="368.4" stroke="#ff0000" stroke-width="3.0" stroke-linecap="round"/>
<line x1="1284.8" y1="8.7" x2="1284.8" y2="338" stroke="#ff0000" stroke-width="3.0" stroke-linecap="round"/>
<line x1="1147.2" y1="66.8" x2="1147.2" y2="209" stroke="#ff0000" stroke-width="3.0" stroke-linecap="round"/>
<line x1="1255.5" y1="131.8" x2="1255.5" y2="225.8" stroke="#ff0000" stroke-width="3.0" stroke-linecap="round"/>
<line x1="1130.2" y1="26.9" x2="1284.8" y2="26.9" stroke="#ff0000" stroke-width="3.0" stroke-linecap="round"/>
<path d="M1130.2,26.9 L1146.2,23.9 L1146.2,29.9 Z" fill="#ff0000" stroke="none"/>
<path d="M1284.8,26.9 L1268.8,29.9 L1268.8,23.9 Z" fill="#ff0000" stroke="none"/>
<line x1="1147.2" y1="84.7" x2="1284.8" y2="84.7" stroke="#ff0000" stroke-width="3.0" stroke-linecap="round"/>
<path d="M1147.2,84.7 L1163.2,81.7 L1163.2,87.7 Z" fill="#ff0000" stroke="none"/>
<path d="M1284.8,84.7 L1268.8,87.7 L1268.8,81.7 Z" fill="#ff0000" stroke="none"/>
<line x1="1147.2" y1="149.7" x2="1255.5" y2="149.7" stroke="#ff0000" stroke-width="3.0" stroke-linecap="round"/>
<path d="M1147.2,149.7 L1163.2,146.7 L1163.2,152.7 Z" fill="#ff0000" stroke="none"/>
<path d="M1255.5,149.7 L1239.5,152.7 L1239.5,146.7 Z" fill="#ff0000" stroke="none"/>
<line x1="1762.3" y1="199.3" x2="2027.8" y2="199.3" stroke="#ff0000" stroke-width="3.0" stroke-linecap="round"/>
<line x1="1762.3" y1="899.8" x2="2027.8" y2="899.8" stroke="#ff0000" stroke-width="3.0" stroke-linecap="round"/>
<line x1="1780.5" y1="199.3" x2="1780.5" y2="899.8" stroke="#ff0000" stroke-width="3.0" stroke-linecap="round"/>
<path d="M1780.5,199.3 L1783.5,215.3 L1777.5,215.3 Z" fill="#ff0000" stroke="none"/>
<path d="M1780.5,899.8 L1777.5,883.8 L1783.5,883.8 Z" fill="#ff0000" stroke="none"/>
<line x1="1832.6" y1="257.1" x2="1987.2" y2="257.1" stroke="#ff0000" stroke-width="3.0" stroke-linecap="round"/>
<line x1="1832.6" y1="841.9" x2="1987.2" y2="841.9" stroke="#ff0000" stroke-width="3.0" stroke-linecap="round"/>
<line x1="1850.7" y1="257.1" x2="1850.7" y2="841.9" stroke="#ff0000" stroke-width="3.0" stroke-linecap="round"/>
<path d="M1850.7,257.1 L1853.7,273.1 L1847.7,273.1 Z" fill="#ff0000" stroke="none"/>
<path d="M1850.7,841.9 L1847.7,825.9 L1853.7,825.9 Z" fill="#ff0000" stroke="none"/>
<line x1="1893.7" y1="341.5" x2="2027.8" y2="341.5" stroke="#ff0000" stroke-width="3.0" stroke-linecap="round"/>
<line x1="1893.7" y1="757.4" x2="2027.8" y2="757.4" stroke="#ff0000" stroke-width="3.0" stroke-linecap="round"/>
<line x1="1912.2" y1="341.5" x2="1912.2" y2="757.4" stroke="#ff0000" stroke-width="3.0" stroke-linecap="round"/>
<path d="M1912.2,341.5 L1915.2,357.5 L1909.2,357.5 Z" fill="#ff0000" stroke="none"/>
<path d="M1912.2,757.4 L1909.2,741.4 L1915.2,741.4 Z" fill="#ff0000" stroke="none"/>
<line x1="2249.8" y1="412.1" x2="2321.2" y2="412.1" stroke="#ff0000" stroke-width="3.0" stroke-linecap="round"/>
<line x1="2249.8" y1="687.2" x2="2321.2" y2="687.2" stroke="#ff0000" stroke-width="3.0" stroke-linecap="round"/>
<line x1="2267.8" y1="412.1" x2="2267.8" y2="687.2" stroke="#ff0000" stroke-width="3.0" stroke-linecap="round"/>
<path d="M2267.8,412.1 L2270.8,428.1 L2264.8,428.1 Z" fill="#ff0000" stroke="none"/>
<path d="M2267.8,687.2 L2264.8,671.2 L2270.8,671.2 Z" fill="#ff0000" stroke="none"/>
<line x1="2619.8" y1="463.8" x2="2792" y2="463.8" stroke="#ff0000" stroke-width="3.0" stroke-linecap="round"/>
<line x1="2619.8" y1="635.2" x2="2792" y2="635.2" stroke="#ff0000" stroke-width="3.0" stroke-linecap="round"/>
<line x1="2773.5" y1="463.8" x2="2773.5" y2="635.2" stroke="#ff0000" stroke-width="3.0" stroke-linecap="round"/>
<path d="M2773.5,463.8 L2776.5,479.8 L2770.5,479.8 Z" fill="#ff0000" stroke="none"/>
<path d="M2773.5,635.2 L2770.5,619.2 L2776.5,619.2 Z" fill="#ff0000" stroke="none"/>
<line x1="2619.8" y1="480.8" x2="2727" y2="480.8" stroke="#ff0000" stroke-width="3.0" stroke-linecap="round"/>
<line x1="2619.8" y1="617.8" x2="2727" y2="617.8" stroke="#ff0000" stroke-width="3.0" stroke-linecap="round"/>
<line x1="2708.7" y1="480.8" x2="2708.7" y2="617.8" stroke="#ff0000" stroke-width="3.0" stroke-linecap="round"/>
<path d="M2708.7,480.8 L2711.7,496.8 L2705.7,496.8 Z" fill="#ff0000" stroke="none"/>
<path d="M2708.7,617.8 L2705.7,601.8 L2711.7,601.8 Z" fill="#ff0000" stroke="none"/>
<line x1="2027.8" y1="72.3" x2="2027.8" y2="199.3" stroke="#ff0000" stroke-width="3.0" stroke-linecap="round"/>
<line x1="2620" y1="72.1" x2="2620" y2="463.8" stroke="#ff0000" stroke-width="3.0" stroke-linecap="round"/>
<line x1="2027.8" y1="90" x2="2620" y2="90" stroke="#ff0000" stroke-width="3.0" stroke-linecap="round"/>
<path d="M2027.8,90 L2043.8,87 L2043.8,93 Z" fill="#ff0000" stroke="none"/>
<path d="M2620,90 L2604,93 L2604,87 Z" fill="#ff0000" stroke="none"/>
<line x1="2166.4" y1="130" x2="2166.4" y2="199.3" stroke="#ff0000" stroke-width="3.0" stroke-linecap="round"/>
<line x1="2027.8" y1="148" x2="2166.4" y2="148" stroke="#ff0000" stroke-width="3.0" stroke-linecap="round"/>
<path d="M2027.8,148 L2043.8,145 L2043.8,151 Z" fill="#ff0000" stroke="none"/>
<path d="M2166.4,148 L2150.4,151 L2150.4,145 Z" fill="#ff0000" stroke="none"/>
<line x1="2592.5" y1="245.6" x2="2592.5" y2="378.8" stroke="#ff0000" stroke-width="3.0" stroke-linecap="round"/>
<line x1="2527.5" y1="263.4" x2="2655.5" y2="263.4" stroke="#ff0000" stroke-width="3.0" stroke-linecap="round"/>
<path d="M2592.5,263.4 L2576.5,266.4 L2576.5,260.4 Z" fill="#ff0000" stroke="none"/>
<path d="M2620,263.4 L2636,260.4 L2636,266.4 Z" fill="#ff0000" stroke="none"/>
<path d="M128.9,1042.1 A21,21 0 1,0 149.9,1063.1" stroke="#ff0000" stroke-width="3.0" fill="none" />
<path d="M226.2,1370.7 h0.5" stroke="#ff0000" stroke-width="2.2" fill="none" stroke-linecap="round"/>
<line x1="1204.5" y1="1160.9" x2="1280.5" y2="1160.9" stroke="#ff0000" stroke-width="3.0" stroke-linecap="round"/>
<line x1="1204.5" y1="1199.2" x2="1280.5" y2="1199.2" stroke="#ff0000" stroke-width="3.0" stroke-linecap="round"/>
<line x1="2009.4" y1="1167.5" x2="2117" y2="1167.5" stroke="#ff0000" stroke-width="3.0" stroke-linecap="round"/>
<line x1="2009.4" y1="1205.7" x2="2117" y2="1205.7" stroke="#ff0000" stroke-width="3.0" stroke-linecap="round"/>
<line x1="1969.8" y1="1092.4" x2="1969.8" y2="1153.7" stroke="#ff0000" stroke-width="3.0" stroke-linecap="round"/>
<line x1="2117.7" y1="1092.4" x2="2117.7" y2="1168.9" stroke="#ff0000" stroke-width="3.0" stroke-linecap="round"/>
<line x1="1969.8" y1="1110.1" x2="2117.7" y2="1110.1" stroke="#ff0000" stroke-width="3.0" stroke-linecap="round"/>
<path d="M1969.8,1110.1 L1985.8,1107.1 L1985.8,1113.1 Z" fill="#ff0000" stroke="none"/>
<path d="M2117.7,1110.1 L2101.7,1113.1 L2101.7,1107.1 Z" fill="#ff0000" stroke="none"/>
<line x1="2179.9" y1="1009.9" x2="2363.3" y2="1276.9" stroke="#ff0000" stroke-width="3.0" stroke-linecap="round"/>
<path d="M2275.6,1149.3 L2251.4,1124.7 L2261.3,1117.9 Z" fill="#ff0000" stroke="none"/>
<path d="M2324.2,1220 L2348.4,1244.6 L2338.5,1251.4 Z" fill="#ff0000" stroke="none"/>
<line x1="2228.2" y1="1107.6" x2="2228.2" y2="1177" stroke="#ff0000" stroke-width="3.0" stroke-linecap="round"/>
<path d="M2228.2,1177 L2222.2,1143 L2234.2,1143 Z" fill="#ff0000" stroke="none"/>
<line x1="2228.2" y1="1194.3" x2="2228.2" y2="1292" stroke="#ff0000" stroke-width="3.0" stroke-linecap="round"/>
<path d="M2228.2,1194.3 L2234.2,1228.3 L2222.2,1228.3 Z" fill="#ff0000" stroke="none"/>
<line x1="2213" y1="1177" x2="2252.4" y2="1177" stroke="#ff0000" stroke-width="3.0" stroke-linecap="round"/>
<line x1="2213" y1="1194.3" x2="2252.4" y2="1194.3" stroke="#ff0000" stroke-width="3.0" stroke-linecap="round"/>
<line x1="2394.2" y1="1085.6" x2="2394.2" y2="1154.9" stroke="#ff0000" stroke-width="3.0" stroke-linecap="round"/>
<path d="M2394.2,1154.9 L2388.2,1120.9 L2400.2,1120.9 Z" fill="#ff0000" stroke="none"/>
<line x1="2394.2" y1="1206" x2="2394.2" y2="1339.2" stroke="#ff0000" stroke-width="3.0" stroke-linecap="round"/>
<path d="M2394.2,1206 L2400.2,1240 L2388.2,1240 Z" fill="#ff0000" stroke="none"/>
<line x1="2313.9" y1="1154.9" x2="2410" y2="1154.9" stroke="#ff0000" stroke-width="3.0" stroke-linecap="round"/>
<line x1="2313.9" y1="1206" x2="2410" y2="1206" stroke="#ff0000" stroke-width="3.0" stroke-linecap="round"/>
<line x1="2553" y1="1166" x2="2766.3" y2="1166" stroke="#ff0000" stroke-width="3.0" stroke-linecap="round"/>
<line x1="2553" y1="1203.5" x2="2766.3" y2="1203.5" stroke="#ff0000" stroke-width="3.0" stroke-linecap="round"/>
<line x1="2523" y1="1037.6" x2="2523" y2="1091.4" stroke="#ff0000" stroke-width="3.0" stroke-linecap="round"/>
<line x1="2772.4" y1="1037.6" x2="2772.4" y2="1160.5" stroke="#ff0000" stroke-width="3.0" stroke-linecap="round"/>
<line x1="2523" y1="1053" x2="2772.4" y2="1053" stroke="#ff0000" stroke-width="3.0" stroke-linecap="round"/>
<path d="M2523,1053 L2557,1047 L2557,1059 Z" fill="#ff0000" stroke="none"/>
<path d="M2772.4,1053 L2738.4,1059 L2738.4,1047 Z" fill="#ff0000" stroke="none"/>
<line x1="2523" y1="1097.5" x2="2523" y2="1145" stroke="#ff0000" stroke-width="3.0" stroke-linecap="round"/>
<line x1="2552.7" y1="1097.5" x2="2552.7" y2="1145" stroke="#ff0000" stroke-width="3.0" stroke-linecap="round"/>
<line x1="2453.8" y1="1112.9" x2="2523" y2="1112.9" stroke="#ff0000" stroke-width="3.0" stroke-linecap="round"/>
<path d="M2523,1112.9 L2489,1118.9 L2489,1106.9 Z" fill="#ff0000" stroke="none"/>
<line x1="2552.7" y1="1112.9" x2="2679" y2="1112.9" stroke="#ff0000" stroke-width="3.0" stroke-linecap="round"/>
<path d="M2552.7,1112.9 L2586.7,1106.9 L2586.7,1118.9 Z" fill="#ff0000" stroke="none"/>
<line x1="2523" y1="1225" x2="2523" y2="1299.7" stroke="#ff0000" stroke-width="3.0" stroke-linecap="round"/>
<line x1="2537.7" y1="1199.8" x2="2537.7" y2="1299.7" stroke="#ff0000" stroke-width="3.0" stroke-linecap="round"/>
<line x1="2453.8" y1="1284.3" x2="2523" y2="1284.3" stroke="#ff0000" stroke-width="3.0" stroke-linecap="round"/>
<path d="M2523,1284.3 L2489,1290.3 L2489,1278.3 Z" fill="#ff0000" stroke="none"/>
<line x1="2537.7" y1="1284.3" x2="2669.8" y2="1284.3" stroke="#ff0000" stroke-width="3.0" stroke-linecap="round"/>
<path d="M2537.7,1284.3 L2571.7,1278.3 L2571.7,1290.3 Z" fill="#ff0000" stroke="none"/>
<line x1="2820" y1="1091.4" x2="2820" y2="1160.5" stroke="#ff0000" stroke-width="3.0" stroke-linecap="round"/>
<path d="M2820,1160.5 L2814,1126.5 L2826,1126.5 Z" fill="#ff0000" stroke="none"/>
<line x1="2820" y1="1209" x2="2820" y2="1340.2" stroke="#ff0000" stroke-width="3.0" stroke-linecap="round"/>
<path d="M2820,1209 L2826,1243 L2814,1243 Z" fill="#ff0000" stroke="none"/>
<line x1="2773.3" y1="1160.5" x2="2835.4" y2="1160.5" stroke="#ff0000" stroke-width="3.0" stroke-linecap="round"/>
<line x1="2775" y1="1209" x2="2835.4" y2="1209" stroke="#ff0000" stroke-width="3.0" stroke-linecap="round"/>
<g transform="translate(1206.8,11.8) rotate(0)" fill="none" stroke="#00ff00" stroke-width="3.40" stroke-linecap="round" stroke-linejoin="round"><path transform="translate(-3.04,-9.20) scale(20.240,18.400)" d="M0.04,0.97 C0.2,0.85 0.3,0.64 0.3,0.34 C0.3,0.12 0.24,0 0.15,0 C0.05,0 0,0.12 0,0.27 C0,0.44 0.06,0.54 0.15,0.54 C0.22,0.54 0.27,0.49 0.3,0.4" vector-effect="non-scaling-stroke"/></g>
<g transform="translate(1215.5,68.8) rotate(0)" fill="none" stroke="#00ff00" stroke-width="3.40" stroke-linecap="round" stroke-linejoin="round"><path transform="translate(-3.04,-9.20) scale(20.240,18.400)" d="M0.15,0 A0.13,0.215 0 1,1 0.15,0.43 A0.13,0.215 0 1,1 0.15,0 Z M0.15,0.43 A0.15,0.285 0 1,1 0.15,1 A0.15,0.285 0 1,1 0.15,0.43 Z" vector-effect="non-scaling-stroke"/></g>
<g transform="translate(1201.4,134) rotate(0)" fill="none" stroke="#00ff00" stroke-width="3.40" stroke-linecap="round" stroke-linejoin="round"><path transform="translate(-10.03,-9.20) scale(20.240,18.400)" d="M0.26,0.03 C0.1,0.15 0,0.36 0,0.66 C0,0.88 0.06,1 0.15,1 C0.25,1 0.3,0.88 0.3,0.73 C0.3,0.56 0.24,0.46 0.15,0.46 C0.08,0.46 0.03,0.51 0,0.6" vector-effect="non-scaling-stroke"/><path transform="translate(-0.61,-9.20) scale(20.240,18.400)" d="M0.03,0.975 L0.03,0.98" vector-effect="non-scaling-stroke"/><path transform="translate(3.96,-9.20) scale(20.240,18.400)" d="M0,0 L0.13,0 C0.24,0 0.3,0.09 0.3,0.21 C0.3,0.35 0.22,0.44 0.1,0.44 C0.23,0.44 0.3,0.54 0.3,0.71 C0.3,0.9 0.23,1 0.13,1 L0,1" vector-effect="non-scaling-stroke"/></g>
<g transform="translate(1764.6,549.4) rotate(-90)" fill="none" stroke="#00ff00" stroke-width="3.40" stroke-linecap="round" stroke-linejoin="round"><path transform="translate(-8.05,-9.20) scale(20.240,18.400)" d="M0.2,0 L0,0.76 L0.34,0.76 M0.25,0.52 L0.25,1" vector-effect="non-scaling-stroke"/><path transform="translate(2.59,-9.20) scale(20.240,18.400)" d="M0.135,0 A0.135,0.5 0 1,1 0.135,1 A0.135,0.5 0 1,1 0.135,0 Z" vector-effect="non-scaling-stroke"/></g>
<g transform="translate(1835,549.9) rotate(-90)" fill="none" stroke="#00ff00" stroke-width="3.40" stroke-linecap="round" stroke-linejoin="round"><path transform="translate(-19.96,-9.20) scale(20.240,18.400)" d="M0,0 L0.13,0 C0.24,0 0.3,0.09 0.3,0.21 C0.3,0.35 0.22,0.44 0.1,0.44 C0.23,0.44 0.3,0.54 0.3,0.71 C0.3,0.9 0.23,1 0.13,1 L0,1" vector-effect="non-scaling-stroke"/><path transform="translate(-10.03,-9.20) scale(20.240,18.400)" d="M0,0 L0.13,0 C0.24,0 0.3,0.09 0.3,0.21 C0.3,0.35 0.22,0.44 0.1,0.44 C0.23,0.44 0.3,0.54 0.3,0.71 C0.3,0.9 0.23,1 0.13,1 L0,1" vector-effect="non-scaling-stroke"/><path transform="translate(-0.61,-9.20) scale(20.240,18.400)" d="M0.03,0.975 L0.03,0.98" vector-effect="non-scaling-stroke"/><path transform="translate(3.96,-9.20) scale(20.240,18.400)" d="M0,0 L0.13,0 C0.24,0 0.3,0.09 0.3,0.21 C0.3,0.35 0.22,0.44 0.1,0.44 C0.23,0.44 0.3,0.54 0.3,0.71 C0.3,0.9 0.23,1 0.13,1 L0,1" vector-effect="non-scaling-stroke"/><path transform="translate(13.89,-9.20) scale(20.240,18.400)" d="M0,0.2 C0.01,0.07 0.07,0 0.15,0 C0.24,0 0.3,0.08 0.3,0.21 C0.3,0.36 0.22,0.5 0,1 L0.31,1" vector-effect="non-scaling-stroke"/></g>
<g transform="translate(1896.4,549.5) rotate(-90)" fill="none" stroke="#00ff00" stroke-width="3.40" stroke-linecap="round" stroke-linejoin="round"><path transform="translate(-15.00,-9.20) scale(20.240,18.400)" d="M0,0.2 C0.01,0.07 0.07,0 0.15,0 C0.24,0 0.3,0.08 0.3,0.21 C0.3,0.36 0.22,0.5 0,1 L0.31,1" vector-effect="non-scaling-stroke"/><path transform="translate(-5.46,-9.20) scale(20.240,18.400)" d="M0.2,0 L0,0.76 L0.34,0.76 M0.25,0.52 L0.25,1" vector-effect="non-scaling-stroke"/><path transform="translate(4.36,-9.20) scale(20.240,18.400)" d="M0.03,0.975 L0.03,0.98" vector-effect="non-scaling-stroke"/><path transform="translate(8.92,-9.20) scale(20.240,18.400)" d="M0,0.2 C0.01,0.07 0.07,0 0.15,0 C0.24,0 0.3,0.08 0.3,0.21 C0.3,0.36 0.22,0.5 0,1 L0.31,1" vector-effect="non-scaling-stroke"/></g>
<g transform="translate(2252.4,548.8) rotate(-90)" fill="none" stroke="#00ff00" stroke-width="3.40" stroke-linecap="round" stroke-linejoin="round"><path transform="translate(-8.00,-9.20) scale(20.240,18.400)" d="M0.02,0.26 L0.2,0 L0.2,1" vector-effect="non-scaling-stroke"/><path transform="translate(1.93,-9.20) scale(20.240,18.400)" d="M0.26,0.03 C0.1,0.15 0,0.36 0,0.66 C0,0.88 0.06,1 0.15,1 C0.25,1 0.3,0.88 0.3,0.73 C0.3,0.56 0.24,0.46 0.15,0.46 C0.08,0.46 0.03,0.51 0,0.6" vector-effect="non-scaling-stroke"/></g>
<g transform="translate(2757.7,549.3) rotate(-90)" fill="none" stroke="#00ff00" stroke-width="3.40" stroke-linecap="round" stroke-linejoin="round"><path transform="translate(-7.85,-9.20) scale(20.240,18.400)" d="M0.02,0.26 L0.2,0 L0.2,1" vector-effect="non-scaling-stroke"/><path transform="translate(2.39,-9.20) scale(20.240,18.400)" d="M0.135,0 A0.135,0.5 0 1,1 0.135,1 A0.135,0.5 0 1,1 0.135,0 Z" vector-effect="non-scaling-stroke"/></g>
<g transform="translate(2692.6,549.3) rotate(-90)" fill="none" stroke="#00ff00" stroke-width="3.40" stroke-linecap="round" stroke-linejoin="round"><path transform="translate(-3.04,-9.20) scale(20.240,18.400)" d="M0.15,0 A0.13,0.215 0 1,1 0.15,0.43 A0.13,0.215 0 1,1 0.15,0 Z M0.15,0.43 A0.15,0.285 0 1,1 0.15,1 A0.15,0.285 0 1,1 0.15,0.43 Z" vector-effect="non-scaling-stroke"/></g>
<g transform="translate(2323.6,74.8) rotate(0)" fill="none" stroke="#00ff00" stroke-width="3.40" stroke-linecap="round" stroke-linejoin="round"><path transform="translate(-15.00,-9.20) scale(20.240,18.400)" d="M0,0 L0.13,0 C0.24,0 0.3,0.09 0.3,0.21 C0.3,0.35 0.22,0.44 0.1,0.44 C0.23,0.44 0.3,0.54 0.3,0.71 C0.3,0.9 0.23,1 0.13,1 L0,1" vector-effect="non-scaling-stroke"/><path transform="translate(-5.06,-9.20) scale(20.240,18.400)" d="M0,0.14 L0,0 L0.3,0 L0.12,1" vector-effect="non-scaling-stroke"/><path transform="translate(4.36,-9.20) scale(20.240,18.400)" d="M0.03,0.975 L0.03,0.98" vector-effect="non-scaling-stroke"/><path transform="translate(8.92,-9.20) scale(20.240,18.400)" d="M0.29,0 L0.01,0 L0,0.44 L0.12,0.44 C0.24,0.44 0.3,0.55 0.3,0.72 C0.3,0.9 0.23,1 0.12,1 L0,1" vector-effect="non-scaling-stroke"/></g>
<g transform="translate(2097.6,132.6) rotate(0)" fill="none" stroke="#00ff00" stroke-width="3.40" stroke-linecap="round" stroke-linejoin="round"><path transform="translate(-10.03,-9.20) scale(20.240,18.400)" d="M0.15,0 A0.13,0.215 0 1,1 0.15,0.43 A0.13,0.215 0 1,1 0.15,0 Z M0.15,0.43 A0.15,0.285 0 1,1 0.15,1 A0.15,0.285 0 1,1 0.15,0.43 Z" vector-effect="non-scaling-stroke"/><path transform="translate(-0.61,-9.20) scale(20.240,18.400)" d="M0.03,0.975 L0.03,0.98" vector-effect="non-scaling-stroke"/><path transform="translate(3.96,-9.20) scale(20.240,18.400)" d="M0.02,0.26 L0.2,0 L0.2,1" vector-effect="non-scaling-stroke"/></g>
<g transform="translate(2543.5,248) rotate(0)" fill="none" stroke="#00ff00" stroke-width="3.40" stroke-linecap="round" stroke-linejoin="round"><path transform="translate(-10.03,-9.20) scale(20.240,18.400)" d="M0.02,0.26 L0.2,0 L0.2,1" vector-effect="non-scaling-stroke"/><path transform="translate(-0.61,-9.20) scale(20.240,18.400)" d="M0.03,0.975 L0.03,0.98" vector-effect="non-scaling-stroke"/><path transform="translate(3.96,-9.20) scale(20.240,18.400)" d="M0.26,0.03 C0.1,0.15 0,0.36 0,0.66 C0,0.88 0.06,1 0.15,1 C0.25,1 0.3,0.88 0.3,0.73 C0.3,0.56 0.24,0.46 0.15,0.46 C0.08,0.46 0.03,0.51 0,0.6" vector-effect="non-scaling-stroke"/></g>
<g transform="translate(2043.4,1094.6) rotate(0)" fill="none" stroke="#00ff00" stroke-width="3.40" stroke-linecap="round" stroke-linejoin="round"><path transform="translate(-10.03,-9.20) scale(20.240,18.400)" d="M0.15,0 A0.13,0.215 0 1,1 0.15,0.43 A0.13,0.215 0 1,1 0.15,0 Z M0.15,0.43 A0.15,0.285 0 1,1 0.15,1 A0.15,0.285 0 1,1 0.15,0.43 Z" vector-effect="non-scaling-stroke"/><path transform="translate(-0.61,-9.20) scale(20.240,18.400)" d="M0.03,0.975 L0.03,0.98" vector-effect="non-scaling-stroke"/><path transform="translate(3.96,-9.20) scale(20.240,18.400)" d="M0.26,0.03 C0.1,0.15 0,0.36 0,0.66 C0,0.88 0.06,1 0.15,1 C0.25,1 0.3,0.88 0.3,0.73 C0.3,0.56 0.24,0.46 0.15,0.46 C0.08,0.46 0.03,0.51 0,0.6" vector-effect="non-scaling-stroke"/></g>
<g transform="translate(2232.5,1031) rotate(56)" fill="none" stroke="#00ff00" stroke-width="3.00" stroke-linecap="round" stroke-linejoin="round"><path transform="translate(-32.77,-17.75) scale(30.175,35.500)" d="M0.21,0.12 A0.21,0.4 0 1,1 0.21,0.92 A0.21,0.4 0 1,1 0.21,0.12 Z M0.36,0 L0.06,1.05" vector-effect="non-scaling-stroke"/><path transform="translate(-9.55,-17.75) scale(30.175,35.500)" d="M0.2,0 L0,0.76 L0.34,0.76 M0.25,0.52 L0.25,1" vector-effect="non-scaling-stroke"/><path transform="translate(11.01,-17.75) scale(30.175,35.500)" d="M0.03,0.975 L0.03,0.98" vector-effect="non-scaling-stroke"/><path transform="translate(23.71,-17.75) scale(30.175,35.500)" d="M0.04,0.97 C0.2,0.85 0.3,0.64 0.3,0.34 C0.3,0.12 0.24,0 0.15,0 C0.05,0 0,0.12 0,0.27 C0,0.44 0.06,0.54 0.15,0.54 C0.22,0.54 0.27,0.49 0.3,0.4" vector-effect="non-scaling-stroke"/></g>
<g transform="translate(2197,1276) rotate(-90)" fill="none" stroke="#00ff00" stroke-width="3.00" stroke-linecap="round" stroke-linejoin="round"><path transform="translate(-4.53,-17.75) scale(30.175,35.500)" d="M0.02,0.26 L0.2,0 L0.2,1" vector-effect="non-scaling-stroke"/></g>
<g transform="translate(2363.5,1306) rotate(-90)" fill="none" stroke="#00ff00" stroke-width="3.00" stroke-linecap="round" stroke-linejoin="round"><path transform="translate(-18.73,-17.75) scale(30.175,35.500)" d="M0,0 L0.13,0 C0.24,0 0.3,0.09 0.3,0.21 C0.3,0.35 0.22,0.44 0.1,0.44 C0.23,0.44 0.3,0.54 0.3,0.71 C0.3,0.9 0.23,1 0.13,1 L0,1" vector-effect="non-scaling-stroke"/><path transform="translate(-0.91,-17.75) scale(30.175,35.500)" d="M0.03,0.975 L0.03,0.98" vector-effect="non-scaling-stroke"/><path transform="translate(9.67,-17.75) scale(30.175,35.500)" d="M0.29,0 L0.01,0 L0,0.44 L0.12,0.44 C0.24,0.44 0.3,0.55 0.3,0.72 C0.3,0.9 0.23,1 0.12,1 L0,1" vector-effect="non-scaling-stroke"/></g>
<g transform="translate(2648,1021.5) rotate(0)" fill="none" stroke="#00ff00" stroke-width="3.00" stroke-linecap="round" stroke-linejoin="round"><path transform="translate(-27.78,-17.75) scale(30.175,35.500)" d="M0.02,0.26 L0.2,0 L0.2,1" vector-effect="non-scaling-stroke"/><path transform="translate(-10.28,-17.75) scale(30.175,35.500)" d="M0.2,0 L0,0.76 L0.34,0.76 M0.25,0.52 L0.25,1" vector-effect="non-scaling-stroke"/><path transform="translate(8.15,-17.75) scale(30.175,35.500)" d="M0.03,0.975 L0.03,0.98" vector-effect="non-scaling-stroke"/><path transform="translate(18.73,-17.75) scale(30.175,35.500)" d="M0.29,0 L0.01,0 L0,0.44 L0.12,0.44 C0.24,0.44 0.3,0.55 0.3,0.72 C0.3,0.9 0.23,1 0.12,1 L0,1" vector-effect="non-scaling-stroke"/></g>
<g transform="translate(2650.5,1081.4) rotate(0)" fill="none" stroke="#00ff00" stroke-width="3.00" stroke-linecap="round" stroke-linejoin="round"><path transform="translate(-18.73,-17.75) scale(30.175,35.500)" d="M0.02,0.26 L0.2,0 L0.2,1" vector-effect="non-scaling-stroke"/><path transform="translate(-0.91,-17.75) scale(30.175,35.500)" d="M0.03,0.975 L0.03,0.98" vector-effect="non-scaling-stroke"/><path transform="translate(9.67,-17.75) scale(30.175,35.500)" d="M0,0.14 L0,0 L0.3,0 L0.12,1" vector-effect="non-scaling-stroke"/></g>
<g transform="translate(2638.2,1253.1) rotate(0)" fill="none" stroke="#00ff00" stroke-width="3.00" stroke-linecap="round" stroke-linejoin="round"><path transform="translate(-18.50,-17.75) scale(30.175,35.500)" d="M0.135,0 A0.135,0.5 0 1,1 0.135,1 A0.135,0.5 0 1,1 0.135,0 Z" vector-effect="non-scaling-stroke"/><path transform="translate(-1.13,-17.75) scale(30.175,35.500)" d="M0.03,0.975 L0.03,0.98" vector-effect="non-scaling-stroke"/><path transform="translate(9.45,-17.75) scale(30.175,35.500)" d="M0.15,0 A0.13,0.215 0 1,1 0.15,0.43 A0.13,0.215 0 1,1 0.15,0 Z M0.15,0.43 A0.15,0.285 0 1,1 0.15,1 A0.15,0.285 0 1,1 0.15,0.43 Z" vector-effect="non-scaling-stroke"/></g>
<g transform="translate(2788.5,1309) rotate(-90)" fill="none" stroke="#00ff00" stroke-width="3.00" stroke-linecap="round" stroke-linejoin="round"><path transform="translate(-14.79,-17.75) scale(30.175,35.500)" d="M0,1 L0,0 L0.23,0.57 L0.46,0 L0.46,1" vector-effect="non-scaling-stroke"/><path transform="translate(5.73,-17.75) scale(30.175,35.500)" d="M0,0 L0.13,0 C0.24,0 0.3,0.09 0.3,0.21 C0.3,0.35 0.22,0.44 0.1,0.44 C0.23,0.44 0.3,0.54 0.3,0.71 C0.3,0.9 0.23,1 0.13,1 L0,1" vector-effect="non-scaling-stroke"/></g>
<line x1="1513.3" y1="1125.3" x2="1513.3" y2="1246.3" stroke="#00ffff" stroke-width="3.3" stroke-linecap="round"/>
<line x1="1459.6" y1="1186.6" x2="1563" y2="1186.6" stroke="#00ffff" stroke-width="3.3" stroke-linecap="round"/>
<line x1="1612.3" y1="1186.6" x2="1669.5" y2="1186.6" stroke="#00ffff" stroke-width="3.3" stroke-linecap="round"/></svg></body></html>
